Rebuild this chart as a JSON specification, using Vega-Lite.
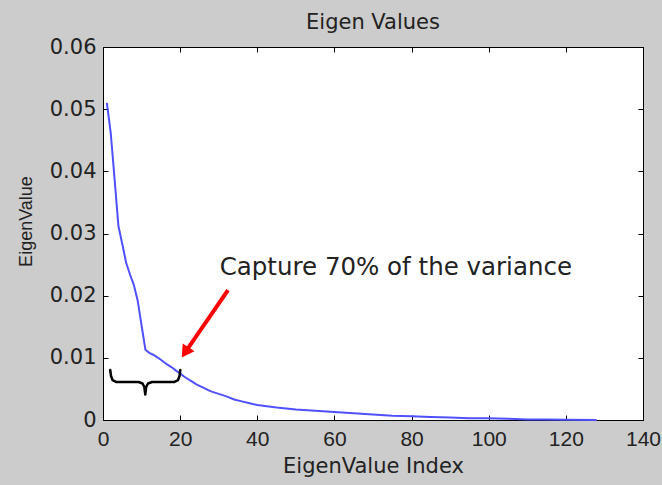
{
  "$schema": "https://vega.github.io/schema/vega-lite/v6.json",
  "width": 540,
  "height": 373,
  "autosize": {"type": "none"},
  "padding": {"left": 103, "top": 47, "right": 19, "bottom": 65},
  "background": "#cccccc",
  "title": {"text": "Eigen Values", "font": "DejaVu Sans", "fontSize": 21, "fontWeight": "normal", "color": "#222222", "offset": 3},
  "config": {
    "view": {"stroke": "#000000", "fill": "#ffffff", "strokeWidth": 1},
    "axis": {
      "grid": false,
      "domain": false,
      "tickColor": "#000000",
      "tickSize": -5,
      "tickWidth": 1,
      "labelFlush": false,
      "labelFont": "DejaVu Sans",
      "labelFontSize": 21,
      "labelColor": "#222222",
      "titleFont": "DejaVu Sans",
      "titleFontSize": 21,
      "titleFontWeight": "normal",
      "titleColor": "#222222"
    }
  },
  "datasets": {
    "eig": [
      {"index": 1, "value": 0.0510}, {"index": 2, "value": 0.0462}, {"index": 3, "value": 0.0388},
      {"index": 4, "value": 0.0312}, {"index": 5, "value": 0.0283}, {"index": 6, "value": 0.0253},
      {"index": 7, "value": 0.0234}, {"index": 8, "value": 0.0217}, {"index": 9, "value": 0.0192},
      {"index": 10, "value": 0.0152}, {"index": 11, "value": 0.0113}, {"index": 12, "value": 0.0108},
      {"index": 13, "value": 0.0105}, {"index": 14, "value": 0.0101}, {"index": 15, "value": 0.0097},
      {"index": 16, "value": 0.0092}, {"index": 17, "value": 0.0088}, {"index": 18, "value": 0.0084},
      {"index": 19, "value": 0.0079}, {"index": 20, "value": 0.0075}, {"index": 21, "value": 0.0070},
      {"index": 22, "value": 0.0066}, {"index": 23, "value": 0.0062}, {"index": 24, "value": 0.0058},
      {"index": 25, "value": 0.0055}, {"index": 26, "value": 0.0052}, {"index": 27, "value": 0.0049},
      {"index": 28, "value": 0.0046}, {"index": 29, "value": 0.0044}, {"index": 30, "value": 0.0042},
      {"index": 32, "value": 0.0038}, {"index": 34, "value": 0.0033}, {"index": 36, "value": 0.0030},
      {"index": 38, "value": 0.0027}, {"index": 40, "value": 0.0024}, {"index": 45, "value": 0.0020},
      {"index": 50, "value": 0.0017}, {"index": 55, "value": 0.0015}, {"index": 60, "value": 0.0013},
      {"index": 65, "value": 0.0011}, {"index": 70, "value": 0.0009}, {"index": 75, "value": 0.0007},
      {"index": 80, "value": 0.0006}, {"index": 85, "value": 0.0005}, {"index": 90, "value": 0.0004},
      {"index": 95, "value": 0.0003}, {"index": 100, "value": 0.0003}, {"index": 105, "value": 0.0002},
      {"index": 110, "value": 0.0001}, {"index": 115, "value": 0.0001}, {"index": 120, "value": 0.00005},
      {"index": 128, "value": 0.00002}
    ],
    "brace": [
      {"o": 1, "bx": 1.87, "by": 0.00804}, {"o": 2, "bx": 2.08, "by": 0.00708}, {"o": 3, "bx": 2.47, "by": 0.00643},
      {"o": 4, "bx": 3.51, "by": 0.00611}, {"o": 5, "bx": 9.22, "by": 0.00611}, {"o": 6, "bx": 10.26, "by": 0.00587},
      {"o": 7, "bx": 10.72, "by": 0.00531}, {"o": 8, "bx": 10.96, "by": 0.00410}, {"o": 9, "bx": 11.19, "by": 0.00531},
      {"o": 10, "bx": 11.66, "by": 0.00587}, {"o": 11, "bx": 12.70, "by": 0.00611}, {"o": 12, "bx": 18.41, "by": 0.00611},
      {"o": 13, "bx": 19.45, "by": 0.00643}, {"o": 14, "bx": 19.84, "by": 0.00708}, {"o": 15, "bx": 20.04, "by": 0.00804}
    ],
    "arrow": [{"x1": 32.4, "y1": 0.0209, "x2": 21.3, "y2": 0.01086}],
    "label": [{"lx": 30.25, "ly": 0.02332, "text": "Capture 70% of the variance"}]
  },
  "layer": [
    {
      "data": {"name": "eig"},
      "mark": {"type": "line", "color": "#5050ff", "strokeWidth": 2},
      "encoding": {
        "x": {"field": "index", "type": "quantitative", "scale": {"domain": [0, 140], "nice": false},
              "axis": {"orient": "bottom", "title": "EigenValue Index", "values": [0, 20, 40, 60, 80, 100, 120, 140], "labelPadding": 13, "titlePadding": 6, "labelFont": "Liberation Sans"}},
        "y": {"field": "value", "type": "quantitative", "scale": {"domain": [0, 0.06], "nice": false, "zero": false},
              "axis": {"orient": "left", "title": "EigenValue", "values": [0, 0.01, 0.02, 0.03, 0.04, 0.05, 0.06],
                       "labelExpr": "datum.value == 0 ? '0' : format(datum.value, '.2f')", "labelPadding": 12,
                       "titleFont": "Liberation Sans", "titleFontSize": 18, "titleX": -77, "titleY": 174, "titleAngle": 270, "titleAlign": "center", "titleBaseline": "middle"}}
      }
    },
    {
      "data": {"name": "eig"},
      "mark": {"type": "line", "opacity": 0},
      "encoding": {
        "x": {"field": "index", "type": "quantitative", "scale": {"domain": [0, 140], "nice": false},
              "axis": {"orient": "top", "title": null, "labels": false, "values": [0, 20, 40, 60, 80, 100, 120, 140]}},
        "y": {"field": "value", "type": "quantitative", "scale": {"domain": [0, 0.06], "nice": false, "zero": false},
              "axis": {"orient": "right", "title": null, "labels": false, "values": [0, 0.01, 0.02, 0.03, 0.04, 0.05, 0.06]}}
      }
    },
    {
      "data": {"name": "brace"},
      "mark": {"type": "line", "color": "#000000", "strokeWidth": 2.5, "strokeCap": "round", "strokeJoin": "round"},
      "encoding": {
        "x": {"field": "bx", "type": "quantitative", "scale": {"domain": [0, 140], "nice": false}, "axis": null},
        "y": {"field": "by", "type": "quantitative", "scale": {"domain": [0, 0.06], "nice": false, "zero": false}, "axis": null},
        "order": {"field": "o"}
      }
    },
    {
      "data": {"name": "arrow"},
      "mark": {"type": "rule", "color": "#ff0000", "strokeWidth": 4},
      "encoding": {
        "x": {"field": "x1", "type": "quantitative", "scale": {"domain": [0, 140], "nice": false}, "axis": null},
        "y": {"field": "y1", "type": "quantitative", "scale": {"domain": [0, 0.06], "nice": false, "zero": false}, "axis": null},
        "x2": {"field": "x2"},
        "y2": {"field": "y2"}
      }
    },
    {
      "data": {"name": "arrow"},
      "mark": {"type": "point", "shape": "triangle-up", "filled": true, "color": "#ff0000", "opacity": 1, "size": 200, "angle": 214},
      "encoding": {
        "x": {"field": "x2", "type": "quantitative", "scale": {"domain": [0, 140], "nice": false}, "axis": null},
        "y": {"field": "y2", "type": "quantitative", "scale": {"domain": [0, 0.06], "nice": false, "zero": false}, "axis": null}
      }
    },
    {
      "data": {"name": "label"},
      "mark": {"type": "text", "font": "DejaVu Sans", "fontSize": 24.5, "color": "#222222", "align": "left", "baseline": "alphabetic"},
      "encoding": {
        "x": {"field": "lx", "type": "quantitative", "scale": {"domain": [0, 140], "nice": false}, "axis": null},
        "y": {"field": "ly", "type": "quantitative", "scale": {"domain": [0, 0.06], "nice": false, "zero": false}, "axis": null},
        "text": {"field": "text"}
      }
    }
  ],
  "resolve": {"axis": {"x": "independent", "y": "independent"}}
}
